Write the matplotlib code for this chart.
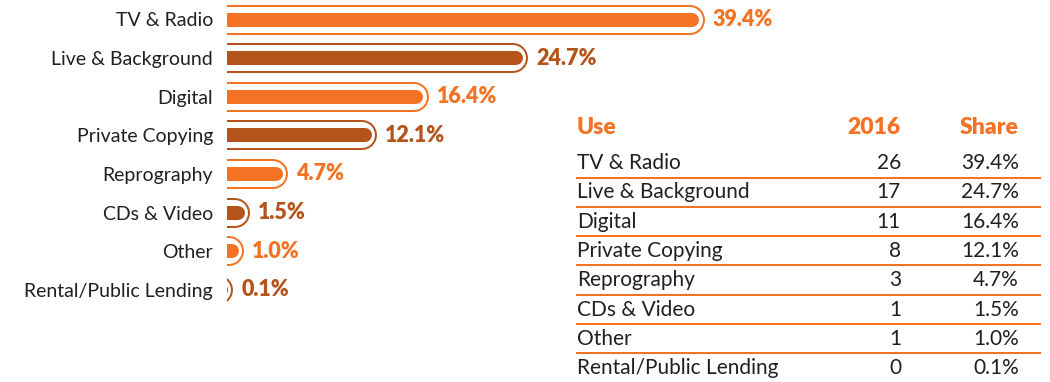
import matplotlib
matplotlib.use("Agg")
import matplotlib.pyplot as plt
from matplotlib.transforms import ScaledTranslation

plt.rcParams['font.family'] = ['Lato', 'DejaVu Sans']

# royalty collections by use
uses = ["TV & Radio", "Live & Background", "Digital", "Private Copying",
        "Reprography", "CDs & Video", "Other", "Rental/Public Lending"]
amount_2016 = [26, 17, 11, 8, 3, 1, 1, 0]
share = [39.4, 24.7, 16.4, 12.1, 4.7, 1.5, 1.0, 0.1]

ORANGE = "#F47224"
RUST = "#B4541A"
INK = "#231F20"
colors = [ORANGE if i % 2 == 0 else RUST for i in range(len(uses))]

DPI = 100
W, H = 1050, 382
fig = plt.figure(figsize=(W / DPI, H / DPI), dpi=DPI)

# --- bars -----------------------------------------------------------------
px_per_pct = 12.0
zero_px = 5          # scale zero sits a little left of the clipped edge
left_px = 227
ax = fig.add_axes([left_px / W, 0, (W - left_px) / W, 1])
ax.set_xlim(-zero_px / px_per_pct, (W - left_px - zero_px) / px_per_pct)
ax.set_ylim((H - 19.5) / 38.6, -19.5 / 38.6)

def shifted(px):
    return ax.transData + ScaledTranslation(-px / DPI, 0, fig.dpi_scale_trans)

pt = 72 / DPI  # points per pixel
for i, (v, c) in enumerate(zip(share, colors)):
    # outline ring
    ax.plot([-10, v], [i, i], color=c, lw=30 * pt, solid_capstyle='round',
            transform=shifted(15))
    ax.plot([-10, v], [i, i], color="white", lw=26 * pt, solid_capstyle='round',
            transform=shifted(15))
    # inner bar
    ax.plot([-10, v], [i, i], color=c, lw=14 * pt, solid_capstyle='round',
            transform=shifted(12.5))
    ax.annotate(f"{v:.1f}%", xy=(v, i), xytext=(8, 0), textcoords='offset pixels',
                ha='left', va='center', fontsize=15.5, fontweight='heavy', color=c)

ax.set_yticks(range(len(uses)))
ax.set_yticklabels(uses, fontsize=14, color=INK)
ax.tick_params(axis='y', length=0, pad=10)
ax.set_xticks([])
for s in ax.spines.values():
    s.set_visible(False)
ax.patch.set_visible(False)

# --- table ----------------------------------------------------------------
tb = fig.add_axes([0, 0, 1, 1])
tb.set_xlim(0, W)
tb.set_ylim(H, 0)
tb.axis('off')

x_use, x_year, x_share, x_end = 577, 901, 1019, 1040
head_y, row0_y, row_h = 127, 163, 29.3

for x, txt, ha in [(x_use, "Use", 'left'), (x_year, "2016", 'right'),
                   (x_share, "Share", 'right')]:
    tb.text(x, head_y, txt, ha=ha, va='center', fontsize=16.5,
            fontweight='heavy', color=ORANGE)

for i, (u, a, s) in enumerate(zip(uses, amount_2016, share)):
    y = row0_y + i * row_h
    tb.text(x_use, y, u, ha='left', va='center', fontsize=15, color=INK)
    tb.text(x_year, y, f"{a}", ha='right', va='center', fontsize=15, color=INK)
    tb.text(x_share, y, f"{s:.1f}%", ha='right', va='center', fontsize=15, color=INK)
    tb.plot([x_use, x_end], [y + 14.5, y + 14.5], color=ORANGE, lw=2 * pt,
            alpha=1 if i < len(uses) - 1 else 0.45)

fig.savefig("out.png", dpi=DPI)
